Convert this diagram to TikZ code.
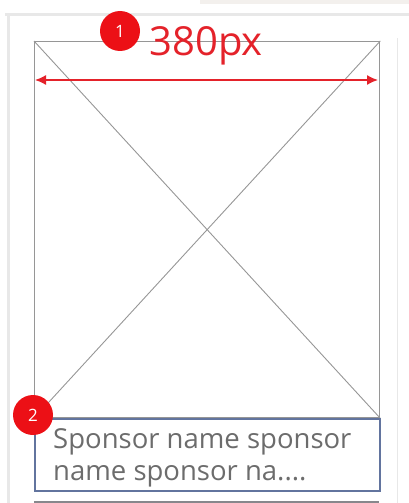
\documentclass[tikz,border=0pt]{standalone}
\usepackage{fontspec}
\setmainfont{Open Sans}
\usetikzlibrary{positioning,arrows.meta}

\definecolor{wfgray}{RGB}{150,150,150}
\definecolor{framegray}{RGB}{232,232,232}
\definecolor{topstrip}{RGB}{243,240,237}
\definecolor{dimred}{RGB}{228,34,42}
\definecolor{badgered}{RGB}{236,16,22}
\definecolor{boxblue}{RGB}{98,116,158}
\definecolor{textgray}{RGB}{108,108,108}
\definecolor{bargray}{RGB}{135,135,140}

\begin{document}
\begin{tikzpicture}[x=1pt,y=-1pt,
	badge/.style={circle,fill=badgered,text=white,minimum size=40pt,inner sep=0pt,
		font=\fontsize{17}{17}\selectfont},
	frame/.style={draw=wfgray,line width=1.3pt,minimum width=345pt,inner sep=0pt,anchor=north west},
	sponsortext/.style={anchor=base west,text=textgray,inner sep=0pt,font=\fontsize{27.5}{32}\selectfont}
	]
	\useasboundingbox (0,0) rectangle (409,503);
	
	%page around the card
	\fill[topstrip] (200,0) rectangle (409,4);
	\draw[framegray,line width=3pt] (5,15) -- (409,15);
	\draw[framegray,line width=3pt] (8,15) -- (8,503);
	\draw[framegray,line width=1pt] (397,38) -- (397,503);
	
	%image placeholder with its cross
	\node[frame,minimum height=376pt] (img) at (34,41) {};
	\draw[wfgray,line width=0.9pt] (img.north west) -- (img.south east);
	\draw[wfgray,line width=0.9pt] (img.north east) -- (img.south west);
	
	%width dimension
	\coordinate (wleft) at (35,80);
	\coordinate (wright) at (378,80);
	\draw[dimred,line width=1.5pt,{Latex[length=11pt,width=10pt]}-{Latex[length=11pt,width=10pt]}] (wleft) -- (wright);
	\node[text=dimred,inner sep=0pt,font=\fontsize{40}{40}\selectfont] (width) at (206,46) {380px};
	
	%sponsor name box
	\node[frame,draw=boxblue,line width=1.5pt,minimum height=72pt] (sponsor) at (34,418) {};
	\node[sponsortext] (line1) at (53,448) {Sponsor name sponsor};
	\node[sponsortext] (line2) at (53,480) {name sponsor na....};
	
	%next element below
	\draw[bargray,line width=3pt] (34,502) -- (379,502);
	
	%numbered markers
	\node[badge] (b1) at (120,31) {1};
	\node[badge] (b2) at (33,415) {2};
\end{tikzpicture}
\end{document}
